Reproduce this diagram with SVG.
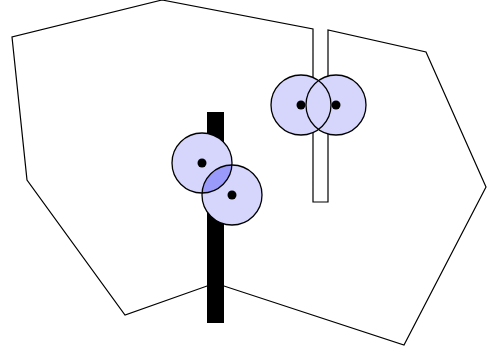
<svg xmlns="http://www.w3.org/2000/svg" width="487" height="352" viewBox="0 0 487 352">
<style>
.outline{fill:none;stroke:#000;stroke-width:1.2;stroke-linejoin:miter}
.disc{fill:#d6d6fd;stroke:none}
.ring{fill:none;stroke:#000;stroke-width:1.3}
.dot{fill:#000}
</style>
<defs>
<clipPath id="c1"><circle cx="202" cy="163" r="30"/></clipPath>
</defs>
<rect width="487" height="352" fill="#fff"/>
<polygon class="outline" points="313,202 313,29 162,0 12,37 27,180 125,315 207,286 224,286 404,345 486,187 426,52 328,30 328,202"/>
<rect id="bar" x="207" y="112" width="17" height="211" fill="#000"/>
<g id="pairA">
<circle class="disc" cx="301" cy="105" r="30"/>
<circle class="disc" cx="336" cy="105" r="30"/>
<circle class="ring" cx="301" cy="105" r="30"/>
<circle class="ring" cx="336" cy="105" r="30"/>
</g>
<g id="pairB">
<circle class="disc" cx="202" cy="163" r="30"/>
<circle class="disc" cx="232" cy="195" r="30"/>
<circle cx="232" cy="195" r="30" fill="#9a9afa" clip-path="url(#c1)"/>
<circle class="ring" cx="202" cy="163" r="30"/>
<circle class="ring" cx="232" cy="195" r="30"/>
</g>
<g id="dots">
<circle class="dot" cx="301" cy="105" r="4.5"/>
<circle class="dot" cx="336" cy="105" r="4.5"/>
<circle class="dot" cx="202" cy="163" r="4.5"/>
<circle class="dot" cx="232" cy="195" r="4.5"/>
</g>
</svg>
